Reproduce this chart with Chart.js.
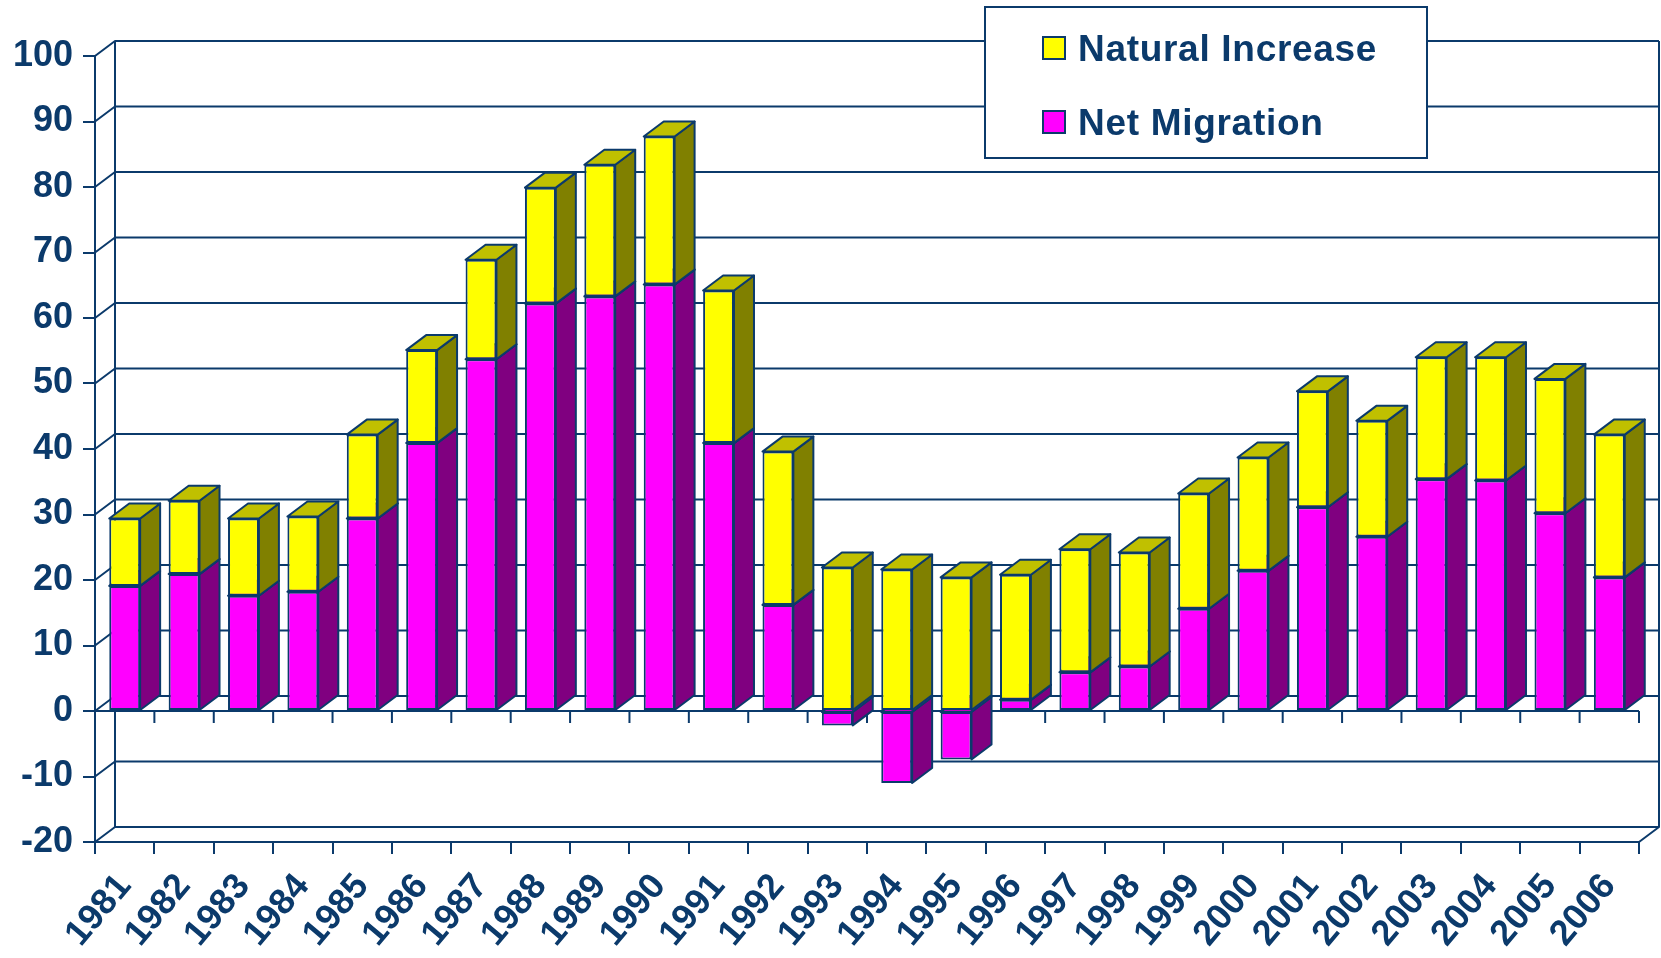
<!DOCTYPE html>
<html>
<head>
<meta charset="utf-8">
<script src="https://cdn.jsdelivr.net/npm/chart.js@4/dist/chart.umd.min.js"></script>
<style>
  body { margin: 0; background: #fff; }
  canvas { display: block; }
</style>
</head>
<body>
<canvas id="popChart" width="1661" height="958"></canvas>
<script>
// annees et composantes de croissance
const years = ["1981", "1982", "1983", "1984", "1985", "1986", "1987", "1988", "1989", "1990",
	"1991", "1992", "1993", "1994", "1995", "1996", "1997", "1998", "1999", "2000",
	"2001", "2002", "2003", "2004", "2005", "2006"];
const netMigration = [19.1, 20.9, 17.6, 18.2, 29.4, 40.9, 53.7, 62.2, 63.3, 65.1,
	40.9, 16.2, -2.2, -11.0, -7.4, 1.7, 5.9, 6.8, 15.6, 21.4,
	31.1, 26.6, 35.4, 35.2, 30.2, 20.4];
const naturalIncrease = [10.3, 11.2, 11.8, 11.5, 12.8, 14.2, 15.2, 17.7, 20.1, 22.6,
	23.3, 23.4, 21.9, 21.6, 20.4, 19.1, 18.8, 17.4, 17.6, 17.3,
	17.7, 17.7, 18.6, 18.8, 20.5, 21.8];
const yMin = -20, yMax = 100, yStep = 10;

const navy = "#0b3a6b";
const fontFamily = "'Liberation Sans', Arial, sans-serif";
const DX = 20, DY = -15; // profondeur 3D

// couleurs face avant / dessus / cote
const shades = [
	{ front: "#ff00ff", top: "#c000c0", side: "#800080" },
	{ front: "#ffff00", top: "#c0c000", side: "#808000" },
];

function poly(ctx, pts, fill) {
	ctx.beginPath();
	ctx.moveTo(pts[0][0], pts[0][1]);
	for (let i = 1; i < pts.length; i++) ctx.lineTo(pts[i][0], pts[i][1]);
	ctx.closePath();
	ctx.fillStyle = fill;
	ctx.fill();
	ctx.stroke();
}

const walls3d = {
	id: "walls3d",
	beforeDatasetsDraw(chart) {
		const { ctx, chartArea: a, scales } = chart;
		const x = scales.x, y = scales.y;
		ctx.save();
		ctx.strokeStyle = navy;
		ctx.lineWidth = 2;
		ctx.lineJoin = "round";

		// quadrillage du mur du fond + diagonales du mur gauche
		y.ticks.forEach((t) => {
			const py = y.getPixelForValue(t.value);
			ctx.beginPath();
			ctx.moveTo(a.left, py);
			ctx.lineTo(a.left + DX, py + DY);
			ctx.lineTo(a.right + DX, py + DY);
			ctx.stroke();
		});
		ctx.beginPath();
		ctx.moveTo(a.left + DX, y.getPixelForValue(yMax) + DY);
		ctx.lineTo(a.left + DX, y.getPixelForValue(yMin) + DY);
		ctx.moveTo(a.right + DX, y.getPixelForValue(yMax) + DY);
		ctx.lineTo(a.right + DX, y.getPixelForValue(yMin) + DY);
		ctx.lineTo(a.right, y.getPixelForValue(yMin));
		ctx.stroke();

		// ligne du zero avec graduations
		const y0 = y.getPixelForValue(0);
		const step = x.getPixelForValue(1) - x.getPixelForValue(0);
		ctx.beginPath();
		ctx.moveTo(a.left, y0);
		ctx.lineTo(a.right, y0);
		for (let i = 0; i <= years.length; i++) {
			const px = x.getPixelForValue(i) - step / 2;
			ctx.moveTo(px, y0);
			ctx.lineTo(px, y0 + 12);
		}
		ctx.stroke();

		// cotes et dessus des barres
		chart.data.datasets.forEach((ds, di) => {
			const c = shades[di];
			chart.getDatasetMeta(di).data.forEach((bar) => {
				const p = bar.getProps(["x", "y", "base", "width"], true);
				const l = p.x - p.width / 2, r = p.x + p.width / 2;
				const top = Math.min(p.y, p.base), bot = Math.max(p.y, p.base);
				poly(ctx, [[r, top], [r + DX, top + DY], [r + DX, bot + DY], [r, bot]], c.side);
				poly(ctx, [[l, top], [l + DX, top + DY], [r + DX, top + DY], [r, top]], c.top);
			});
		});
		ctx.restore();
	},
	afterDraw(chart) {
		// legende encadree
		const ctx = chart.ctx;
		ctx.save();
		ctx.fillStyle = "#fff";
		ctx.strokeStyle = navy;
		ctx.lineWidth = 2;
		ctx.fillRect(985, 7, 442, 151);
		ctx.strokeRect(985, 7, 442, 151);
		ctx.font = "bold 37px " + fontFamily;
		ctx.letterSpacing = "0.7px";
		ctx.textBaseline = "alphabetic";
		const order = [1, 0];
		order.forEach((di, i) => {
			const ds = chart.data.datasets[di];
			const by = 61 + i * 74;
			ctx.fillStyle = ds.backgroundColor;
			ctx.fillRect(1043, by - 24, 22, 22);
			ctx.strokeRect(1043, by - 24, 22, 22);
			ctx.fillStyle = navy;
			ctx.fillText(ds.label, 1078, by);
		});
		ctx.restore();
	},
};

const ctx = document.getElementById("popChart").getContext("2d");

new Chart(ctx, {
	type: "bar",
	data: {
		labels: years,
		datasets: [
			{
				label: "Net Migration",
				data: netMigration,
				backgroundColor: shades[0].front,
				borderColor: navy,
				borderWidth: 2,
				borderSkipped: false,
			},
			{
				label: "Natural Increase",
				data: naturalIncrease,
				backgroundColor: shades[1].front,
				borderColor: navy,
				borderWidth: 2,
				borderSkipped: false,
			},
		],
	},
	options: {
		responsive: false,
		animation: false,
		layout: { padding: { top: 56, right: 22, left: 0, bottom: 0 } },
		datasets: { bar: { categoryPercentage: 1, barPercentage: 0.52 } },
		plugins: { legend: { display: false }, tooltip: { enabled: false } },
		scales: {
			x: {
				stacked: true,
				afterFit: (s) => { s.height = 116; },
				grid: { drawOnChartArea: false, tickLength: 12, color: navy, lineWidth: 2, offset: true },
				border: { display: true, color: navy, width: 2 },
				ticks: {
					autoSkip: false,
					minRotation: 50,
					maxRotation: 50,
					padding: 12,
					color: navy,
					font: { family: fontFamily, size: 36, weight: "bold" },
				},
			},
			y: {
				stacked: true,
				min: yMin,
				max: yMax,
				afterFit: (s) => { s.width = 95; },
				grid: { drawOnChartArea: false, tickLength: 12, color: navy, lineWidth: 2 },
				border: { display: true, color: navy, width: 2 },
				ticks: {
					stepSize: yStep,
					padding: 10,
					color: navy,
					font: { family: fontFamily, size: 36, weight: "bold" },
				},
			},
		},
	},
	plugins: [walls3d],
});
</script>
</body>
</html>
